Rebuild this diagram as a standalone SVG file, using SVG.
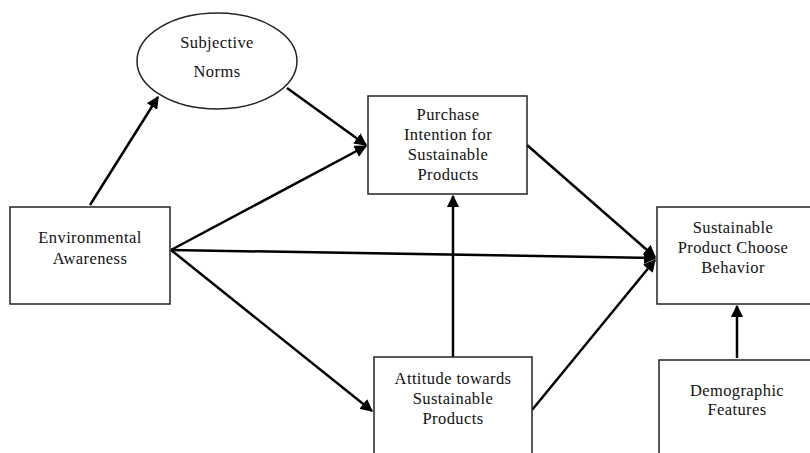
<svg xmlns="http://www.w3.org/2000/svg" width="810" height="453" viewBox="0 0 810 453">
<defs>
<marker id="ah" viewBox="0 0 10 10" refX="9" refY="5" markerWidth="5" markerHeight="5" orient="auto" markerUnits="strokeWidth">
<path d="M0,0 L10,5 L0,10 z" fill="#000"/>
</marker>
<style>
.box{fill:#fff;stroke:#222;stroke-width:1.5}
.t{font-family:"Liberation Serif","Times New Roman",serif;font-size:16.5px;letter-spacing:0.4px;fill:#111;text-anchor:middle}
.c{stroke:#000;stroke-width:2.5;fill:none;marker-end:url(#ah)}
</style>
</defs>
<rect width="810" height="453" fill="#fff"/>
<g id="connectors">
<line class="c" x1="90" y1="205" x2="158" y2="97"/>
<line class="c" x1="287" y1="88" x2="366" y2="145"/>
<line class="c" x1="171" y1="250" x2="366" y2="146"/>
<line class="c" x1="171" y1="250" x2="655" y2="258"/>
<line class="c" x1="171" y1="250" x2="372" y2="411"/>
<line class="c" x1="527" y1="145" x2="655" y2="257"/>
<line class="c" x1="453" y1="357" x2="453" y2="196"/>
<line class="c" x1="532" y1="410" x2="655" y2="260"/>
<line class="c" x1="737" y1="358" x2="737" y2="306"/>
</g>
<g id="subjective-norms">
<ellipse class="box" cx="217" cy="61" rx="80" ry="48"/>
<text class="t" x="217" y="48">Subjective</text>
<text class="t" x="217" y="77">Norms</text>
</g>
<g id="environmental-awareness">
<rect class="box" x="10" y="207" width="160" height="97"/>
<text class="t" x="90" y="243">Environmental</text>
<text class="t" x="90" y="264">Awareness</text>
</g>
<g id="purchase-intention">
<rect class="box" x="368" y="96" width="159" height="98"/>
<text class="t" x="448" y="120">Purchase</text>
<text class="t" x="448" y="140">Intention for</text>
<text class="t" x="448" y="160">Sustainable</text>
<text class="t" x="448" y="180">Products</text>
</g>
<g id="choose-behavior">
<rect class="box" x="657" y="207" width="160" height="97"/>
<text class="t" x="733" y="233">Sustainable</text>
<text class="t" x="733" y="253">Product Choose</text>
<text class="t" x="733" y="273">Behavior</text>
</g>
<g id="attitude">
<rect class="box" x="374" y="357" width="158" height="110"/>
<text class="t" x="453" y="384">Attitude towards</text>
<text class="t" x="453" y="404">Sustainable</text>
<text class="t" x="453" y="424">Products</text>
</g>
<g id="demographic">
<rect class="box" x="659" y="360" width="160" height="110"/>
<text class="t" x="737" y="396">Demographic</text>
<text class="t" x="737" y="415">Features</text>
</g>
</svg>
